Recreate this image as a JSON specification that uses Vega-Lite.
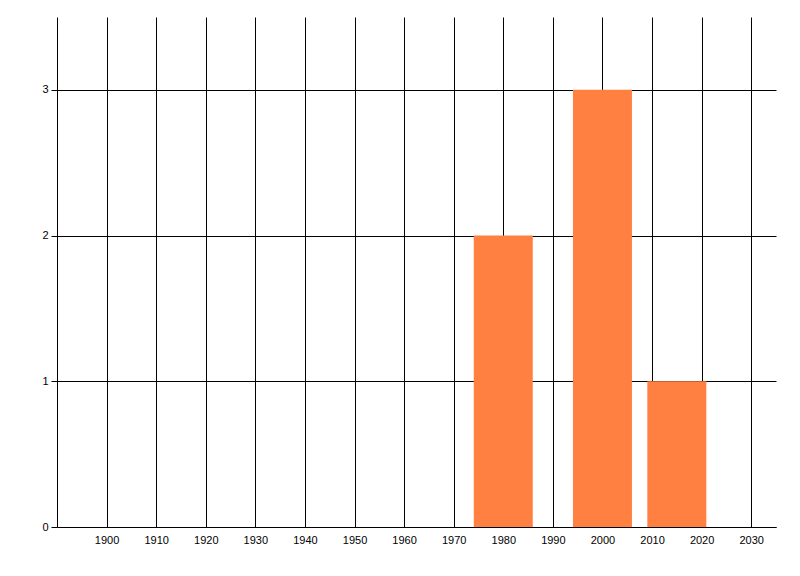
{
  "$schema": "https://vega.github.io/schema/vega-lite/v6.json",
  "width": 719,
  "height": 510,
  "autosize": {"type": "none"},
  "padding": {"left": 57, "top": 17, "right": 24, "bottom": 49},
  "background": "white",
  "config": {
    "view": {"stroke": null},
    "axis": {
      "domainColor": "black",
      "domainWidth": 1,
      "gridColor": "black",
      "gridOpacity": 1,
      "gridWidth": 1,
      "labelColor": "black",
      "labelFont": "Liberation Sans",
      "labelFontSize": 11,
      "tickColor": "black"
    }
  },
  "data": {
    "values": [
      {"decade": 1980, "count": 2},
      {"decade": 2000, "count": 3},
      {"decade": 2015, "count": 1}
    ]
  },
  "mark": {"type": "bar", "color": "#FF8040", "size": 59},
  "encoding": {
    "x": {
      "field": "decade",
      "type": "quantitative",
      "scale": {"domain": [1890, 2035], "nice": false, "zero": false, "padding": 0},
      "axis": {
        "values": [1900, 1910, 1920, 1930, 1940, 1950, 1960, 1970, 1980, 1990, 2000, 2010, 2020, 2030],
        "format": "d",
        "title": null,
        "grid": true,
        "ticks": false,
        "labelPadding": 7
      }
    },
    "y": {
      "field": "count",
      "type": "quantitative",
      "scale": {"domain": [0, 3.5], "nice": false, "padding": 0},
      "axis": {
        "values": [0, 1, 2, 3],
        "format": "d",
        "title": null,
        "grid": true,
        "ticks": true,
        "tickSize": 6,
        "labelPadding": 3
      }
    }
  }
}
